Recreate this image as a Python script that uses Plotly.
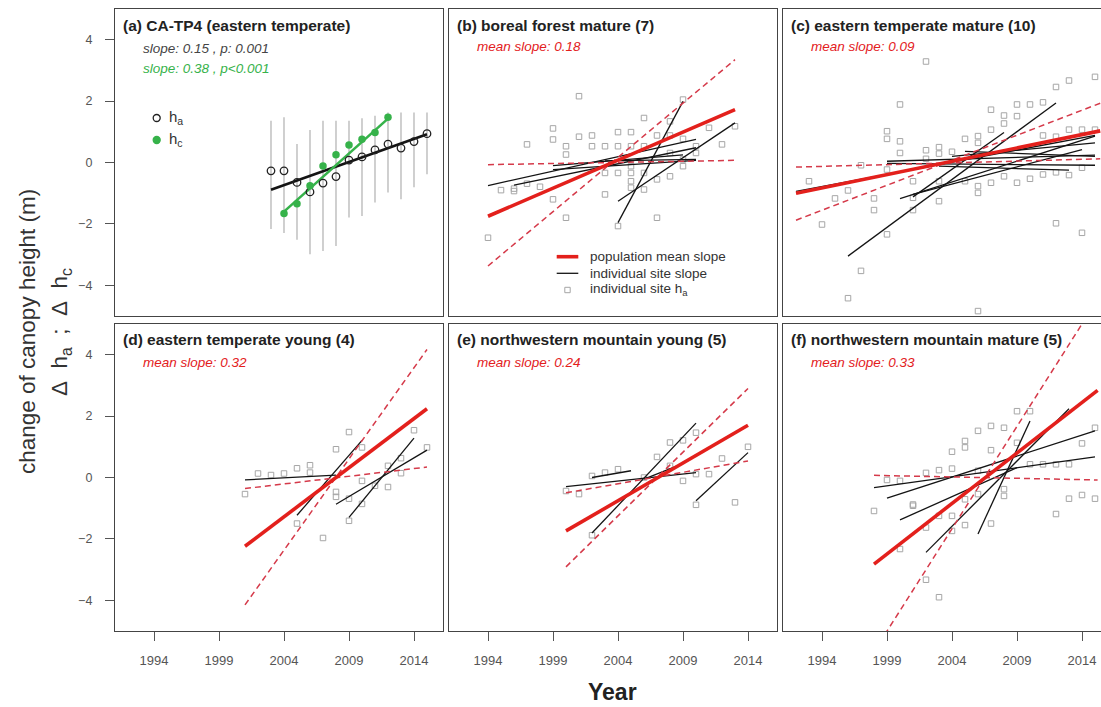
import plotly.graph_objects as go

W, H = 1101, 707
X_TICKS = [1994, 1999, 2004, 2009, 2014]
Y_TICKS = [-4, -2, 0, 2, 4]

# ---------------- panel (a) CA-TP4 ----------------
a_years_ha = [2003, 2004, 2005, 2006, 2007, 2008, 2009, 2010, 2011, 2012, 2013, 2014, 2015]
a_ha = [-0.27, -0.27, -0.65, -0.96, -0.67, -0.46, 0.08, 0.18, 0.41, 0.60, 0.47, 0.68, 0.94]
a_years_hc = [2004, 2005, 2006, 2007, 2008, 2009, 2010, 2011, 2012]
a_hc = [-1.66, -1.34, -0.76, -0.11, 0.25, 0.57, 0.76, 0.98, 1.47]
a_bar_lo = [-2.17, -2.30, -2.52, -2.99, -2.88, -2.72, -1.79, -1.74, -1.30, -0.98, -1.20, -0.81, -0.38]
a_bar_hi = [1.36, 1.47, 0.60, 1.06, 1.36, 1.36, 1.36, 1.44, 1.52, 1.63, 1.63, 1.63, 1.63]
a_fit_ha_x = [2003, 2015]
a_fit_ha_y = [-0.89, 0.92]
a_fit_hc_x = [2004, 2012]
a_fit_hc_y = [-1.60, 1.43]

# ---------------- panel (b) boreal forest mature ----------------
b_pt_years = [1994, 1995, 1996, 1997, 1998, 1999, 2000, 2001, 2002, 2003, 2004,
              2005, 2006, 2007, 2008, 2009, 2010, 2011, 2012, 2013]
b_pt_vals = [[-2.45], [-0.90], [-0.93, -0.85], [0.59, -0.69], [-0.79],
             [1.11, 0.75, -1.20], [0.53, 0.26, -1.80], [2.16, 0.84], [0.88, 0.53],
             [0.53, -0.34, -1.04], [0.99, 0.53, -0.34, -2.07],
             [0.99, 0.53, -0.12, -0.34, -0.61, -0.82], [1.45, 0.53, -0.34, -0.88],
             [0.88, -0.55, -1.80], [1.34, 0.88, 0.31, -0.45], [2.05, 0.77, 0.10, -0.12],
             [0.53, 0.31], [1.13], [0.59], [1.18]]
b_site_x0 = [1994, 1996, 1999, 1999, 2004, 2004, 2003]
b_site_x1 = [2010, 2010, 2010, 2009, 2009, 2013, 2010]
b_site_y0 = [-0.75, -0.74, -0.23, -0.10, -1.96, -1.26, 0.05]
b_site_y1 = [0.75, 0.48, 0.07, 0.25, 1.99, 1.29, 0.10]
b_mean = [1994, 2013, -1.75, 1.72]
b_ci_hi = [1994, 2013, -3.37, 3.35]
b_ci_lo = [1994, 2013, -0.07, 0.07]

# ---------------- panel (c) eastern temperate mature ----------------
c_pt_years = [1993, 1994, 1995, 1996, 1997, 1998, 1999, 2000, 2001, 2002, 2003, 2004,
              2005, 2006, 2007, 2008, 2009, 2010, 2011, 2012, 2013, 2014, 2015]
c_pt_vals = [[-0.61], [-2.02], [-1.17], [-0.91, -4.42], [-0.09, -3.53], [-1.17, -1.55],
             [1.02, 0.77, -0.23, -2.34], [1.89, 0.69, 0.31], [-0.61, -1.15, -1.55],
             [3.29, 0.40, 0.12], [0.50, 0.29, -0.61, -1.26], [0.35], [0.77, -0.61],
             [0.86, 0.64, -0.77, -0.99, -4.84], [1.72, 1.07, -0.66], [1.53, 1.27, -0.45],
             [1.89, 1.51, -0.66], [1.89, -0.53], [1.96, 0.88, -0.39],
             [2.46, 0.84, -0.32, -1.98], [2.67, 1.07, -0.41], [1.07, -0.17, -2.29],
             [2.79, 1.07]]
c_site_x0 = [1992, 1996, 1999, 1999, 2000, 2001, 2003, 2004, 2005, 2001]
c_site_x1 = [2015, 2012, 2015, 2015, 2015, 2008, 2013, 2015, 2015, 2014]
c_site_y0 = [-0.94, -3.05, 0.04, -0.03, -1.18, -1.12, -0.12, 0.20, 0.36, -1.04]
c_site_y1 = [0.88, 1.94, 0.24, -0.09, 0.86, 0.98, -0.25, 0.64, 0.20, 0.42]
c_mean = [1992, 2015.4, -1.00, 1.03]
c_ci_hi = [1992, 2015.4, -1.88, 1.93]
c_ci_lo = [1992, 2015.4, -0.15, 0.12]

# ---------------- panel (d) eastern temperate young ----------------
d_pt_years = [2001, 2002, 2003, 2004, 2005, 2006, 2007, 2008, 2009, 2010, 2011,
              2012, 2013, 2014, 2015]
d_pt_vals = [[-0.54], [0.13], [0.08], [0.13], [0.30, -1.50], [0.40, 0.16], [-1.97],
             [0.92, -0.47, -0.63], [1.48, -0.69, -1.41], [0.98, -0.11, -0.86], [-0.27],
             [0.38, -0.31], [0.63, 0.14], [1.54], [0.98]]
d_site_x0 = [2001, 2005, 2008, 2009]
d_site_x1 = [2008, 2010, 2015, 2014]
d_site_y0 = [-0.08, -1.23, -0.87, -1.30]
d_site_y1 = [0.08, 1.21, 0.89, 1.28]
d_mean = [2001, 2015, -2.24, 2.24]
d_ci_hi = [2001, 2015, -4.15, 4.17]
d_ci_lo = [2001, 2015, -0.36, 0.34]

# ---------------- panel (e) northwestern mountain young ----------------
e_pt_years = [2000, 2001, 2002, 2003, 2004, 2006, 2007, 2008, 2009, 2010, 2011,
              2012, 2013, 2014]
e_pt_vals = [[-0.44], [-0.54], [0.05, -1.88], [0.16], [0.27], [0.0], [0.67],
             [1.14, 0.38], [1.21, -0.11], [1.46, 0.11, -0.89], [0.11], [0.62],
             [-0.81], [1.00]]
e_site_x0 = [2000, 2002, 2002, 2006, 2010]
e_site_x1 = [2010, 2010, 2005, 2009, 2014]
e_site_y0 = [-0.30, -1.81, 0.00, -0.05, -0.76]
e_site_y1 = [0.16, 1.77, 0.22, 0.45, 0.81]
e_mean = [2000, 2014, -1.74, 1.70]
e_ci_hi = [2000, 2014, -2.91, 2.90]
e_ci_lo = [2000, 2014, -0.50, 0.54]

# ---------------- panel (f) northwestern mountain mature ----------------
f_pt_years = [1998, 1999, 2000, 2001, 2002, 2003, 2004, 2005, 2006, 2007, 2008,
              2009, 2010, 2011, 2012, 2013, 2014, 2015]
f_pt_vals = [[-1.09], [-0.08], [-0.11, -2.33], [-0.88, -0.92], [0.15, -1.63, -3.33],
             [0.24, -1.25, -3.90], [0.84, 0.29, -1.25, -1.74], [1.19, 0.98, -0.71, -1.55],
             [1.52, 0.22, -0.54], [1.68, 0.89, -1.50], [1.62, -0.38, -0.60],
             [2.16, 1.13], [2.16, 0.43], [0.43], [0.43, -1.19], [0.43, -0.69],
             [1.11, -0.57], [1.62, -0.69]]
f_site_x0 = [1998, 1999, 2000, 2002, 2006]
f_site_x1 = [2015, 2015, 2009, 2013, 2010]
f_site_y0 = [-0.33, -0.67, -1.38, -2.44, -1.84]
f_site_y1 = [0.67, 1.52, 0.32, 2.24, 1.84]
f_mean = [1998, 2015.2, -2.82, 2.84]
f_ci_hi = [1998, 2015.2, -5.67, 5.80]
f_ci_lo = [1998, 2015.2, 0.07, -0.08]

titles = ["(a) CA-TP4 (eastern temperate)", "(b) boreal forest mature (7)",
          "(c) eastern temperate mature (10)", "(d) eastern temperate young (4)",
          "(e) northwestern mountain young (5)", "(f) northwestern mountain mature (5)"]
mean_slopes = [None, 0.18, 0.09, 0.32, 0.24, 0.33]
legend_a_labels = ["h<sub>a</sub>", "h<sub>c</sub>"]
legend_b_labels = ["population mean slope", "individual site slope", "individual site h<sub>a</sub>"]

RED = "#e3201c"
RED_D = "#d53a4a"
GRAY_PT = "#a6a6a6"
BLACK = "#141414"
GREEN = "#36b24a"
FONT = "Liberation Sans"

panels = [None,
          (b_pt_years, b_pt_vals, b_site_x0, b_site_x1, b_site_y0, b_site_y1, b_mean, b_ci_hi, b_ci_lo),
          (c_pt_years, c_pt_vals, c_site_x0, c_site_x1, c_site_y0, c_site_y1, c_mean, c_ci_hi, c_ci_lo),
          (d_pt_years, d_pt_vals, d_site_x0, d_site_x1, d_site_y0, d_site_y1, d_mean, d_ci_hi, d_ci_lo),
          (e_pt_years, e_pt_vals, e_site_x0, e_site_x1, e_site_y0, e_site_y1, e_mean, e_ci_hi, e_ci_lo),
          (f_pt_years, f_pt_vals, f_site_x0, f_site_x1, f_site_y0, f_site_y1, f_mean, f_ci_hi, f_ci_lo)]


def segs(x0s, x1s, y0s, y1s):
    xs, ys = [], []
    for p, q, r, s in zip(x0s, x1s, y0s, y1s):
        xs += [p, q, None]
        ys += [r, s, None]
    return xs, ys


fig = go.Figure()

# ---- panel a traces
bx, by = [], []
for yr, lo, hi in zip(a_years_ha, a_bar_lo, a_bar_hi):
    bx += [yr, yr, None]
    by += [lo, hi, None]
fig.add_trace(go.Scatter(x=bx, y=by, mode="lines", line=dict(color="#c4c4c4", width=1.6),
                         xaxis="x", yaxis="y", showlegend=False, hoverinfo="skip"))
fig.add_trace(go.Scatter(x=a_fit_ha_x, y=a_fit_ha_y, mode="lines", line=dict(color=BLACK, width=2.6),
                         xaxis="x", yaxis="y", showlegend=False))
fig.add_trace(go.Scatter(x=a_fit_hc_x, y=a_fit_hc_y, mode="lines", line=dict(color=GREEN, width=2.6),
                         xaxis="x", yaxis="y", showlegend=False))
fig.add_trace(go.Scatter(x=a_years_ha, y=a_ha, mode="markers", name="h_a",
                         marker=dict(symbol="circle-open", size=7.5, color="#222", line=dict(width=1.3)),
                         xaxis="x", yaxis="y", showlegend=False))
fig.add_trace(go.Scatter(x=a_years_hc, y=a_hc, mode="markers", name="h_c",
                         marker=dict(symbol="circle", size=7.5, color=GREEN),
                         xaxis="x", yaxis="y", showlegend=False))

# ---- panels b-f
for i in range(1, 6):
    pyears, pvals, sx0, sx1, sy0, sy1, mean, cihi, cilo = panels[i]
    xa = "x%d" % (i + 1)
    ya = "y%d" % (i + 1)
    px, py = [], []
    for yr, vals in zip(pyears, pvals):
        for v in vals:
            px.append(yr)
            py.append(v)
    fig.add_trace(go.Scatter(x=px, y=py, mode="markers", name="individual site h_a",
                             marker=dict(symbol="square-open", size=5.5, color=GRAY_PT, line=dict(width=1)),
                             xaxis=xa, yaxis=ya, showlegend=False))
    lx, ly = segs(sx0, sx1, sy0, sy1)
    fig.add_trace(go.Scatter(x=lx, y=ly, mode="lines", name="individual site slope",
                             line=dict(color=BLACK, width=1.3),
                             xaxis=xa, yaxis=ya, showlegend=False))
    for ci in (cihi, cilo):
        fig.add_trace(go.Scatter(x=ci[:2], y=ci[2:], mode="lines",
                                 line=dict(color=RED_D, width=1.5, dash="6px,4px"),
                                 xaxis=xa, yaxis=ya, showlegend=False))
    fig.add_trace(go.Scatter(x=mean[:2], y=mean[2:], mode="lines", name="population mean slope",
                             line=dict(color=RED, width=3.6),
                             xaxis=xa, yaxis=ya, showlegend=False))

# ---- axes layout
cols = [(115, 443), (449, 777), (783, 1101)]
rows = [(9, 316), (324, 631)]
PX_PER_YEAR = 13.0
layout = {}
annotations = []
shapes = []


def px2p(x, y):
    return x / W, 1 - y / H


for i in range(6):
    r, c = divmod(i, 3)
    x0, x1 = cols[c]
    y0, y1 = rows[r]
    span = (x1 - x0) / PX_PER_YEAR
    xname = "xaxis" if i == 0 else "xaxis%d" % (i + 1)
    yname = "yaxis" if i == 0 else "yaxis%d" % (i + 1)
    layout[xname] = dict(domain=[x0 / W, x1 / W], range=[1991, 1991 + span],
                         anchor="y" if i == 0 else "y%d" % (i + 1),
                         showline=True, mirror=True, linecolor="#444", linewidth=1.3,
                         showgrid=False, zeroline=False,
                         tickvals=X_TICKS, ticks="outside" if r == 1 else "",
                         showticklabels=(r == 1), ticklen=9, tickcolor="#555", tickwidth=1.2,
                         ticklabelstandoff=8,
                         tickfont=dict(size=13, color="#555", family=FONT))
    layout[yname] = dict(domain=[1 - y1 / H, 1 - y0 / H], range=[-5, 5],
                         anchor="x" if i == 0 else "x%d" % (i + 1),
                         showline=True, mirror=(c < 2), linecolor="#444", linewidth=1.3,
                         showgrid=False, zeroline=False,
                         tickvals=Y_TICKS, ticks="outside" if c == 0 else "",
                         showticklabels=(c == 0), ticklen=9, tickcolor="#555", tickwidth=1.2,
                         ticklabelstandoff=10,
                         tickfont=dict(size=12.5, color="#555", family=FONT))
    tx, ty = px2p(x0 + 6, y0 + 16)
    annotations.append(dict(text="<b>%s</b>" % titles[i], xref="paper", yref="paper",
                            x=tx, y=ty, xanchor="left", yanchor="middle",
                            showarrow=False, font=dict(size=15.5, color="#222", family=FONT)))
    if mean_slopes[i] is not None:
        mx, my = px2p(x0 + 26, y0 + 38)
        annotations.append(dict(text="<i>mean slope: %.2f</i>" % mean_slopes[i], xref="paper", yref="paper",
                                x=mx, y=my, xanchor="left", yanchor="middle",
                                showarrow=False, font=dict(size=13.5, color=RED, family=FONT)))

for txt, col, yy in (("<i>slope: 0.15 , p: 0.001</i>", "#444", 48),
                     ("<i>slope: 0.38 , p<0.001</i>", GREEN, 68)):
    sx, sy = px2p(141, yy)
    annotations.append(dict(text=txt, xref="paper", yref="paper", x=sx, y=sy,
                            xanchor="left", yanchor="middle", showarrow=False,
                            font=dict(size=13.5, color=col, family=FONT)))

# ---- legend of panel (a), drawn by hand
la_y = [118, 140]
for k, (lab, yy) in enumerate(zip(legend_a_labels, la_y)):
    cx0, cy0 = px2p(153.2, yy - 3.5)
    cx1, cy1 = px2p(160.2, yy + 3.5)
    shapes.append(dict(type="circle", xref="paper", yref="paper", x0=cx0, y0=cy0, x1=cx1, y1=cy1,
                       line=dict(color="#222" if k == 0 else GREEN, width=1.3),
                       fillcolor="rgba(0,0,0,0)" if k == 0 else GREEN))
    tx, ty = px2p(167, yy)
    annotations.append(dict(text=lab, xref="paper", yref="paper", x=tx, y=ty, xanchor="left",
                            yanchor="middle", showarrow=False, font=dict(size=15, color="#333", family=FONT)))

# ---- legend of panel (b), drawn by hand
lb_y = [256.7, 273.3, 290]
for k, (lab, yy) in enumerate(zip(legend_b_labels, lb_y)):
    if k < 2:
        lx0, ly0 = px2p(556.7, yy)
        lx1, ly1 = px2p(578.3, yy)
        shapes.append(dict(type="line", xref="paper", yref="paper", x0=lx0, y0=ly0, x1=lx1, y1=ly1,
                           line=dict(color=RED if k == 0 else BLACK, width=3.6 if k == 0 else 1.3)))
    else:
        qx0, qy0 = px2p(564.8, yy - 2.7)
        qx1, qy1 = px2p(570.2, yy + 2.7)
        shapes.append(dict(type="rect", xref="paper", yref="paper", x0=qx0, y0=qy0, x1=qx1, y1=qy1,
                           line=dict(color=GRAY_PT, width=1), fillcolor="rgba(0,0,0,0)"))
    tx, ty = px2p(588, yy)
    annotations.append(dict(text=lab, xref="paper", yref="paper", x=tx, y=ty, xanchor="left",
                            yanchor="middle", showarrow=False, font=dict(size=13.5, color="#333", family=FONT)))

# ---- global axis titles
yx, yy = px2p(612, 692)
annotations.append(dict(text="<b>Year</b>", xref="paper", yref="paper", x=yx, y=yy,
                        xanchor="center", yanchor="middle", showarrow=False,
                        font=dict(size=23, color="#222", family=FONT)))
t1x, t1y = px2p(27, 332)
annotations.append(dict(text="change of canopy height (m)", xref="paper", yref="paper",
                        x=t1x, y=t1y, xanchor="center", yanchor="middle", showarrow=False,
                        textangle=-90, font=dict(size=22.5, color="#333", family=FONT)))
t2x, t2y = px2p(61, 332)
annotations.append(dict(text="Δ\u00a0\u00a0h<sub>a</sub>\u00a0\u00a0;\u00a0\u00a0Δ\u00a0\u00a0h<sub>c</sub>",
                        xref="paper", yref="paper", x=t2x, y=t2y, xanchor="center", yanchor="middle",
                        showarrow=False, textangle=-90, font=dict(size=22.5, color="#333", family=FONT)))

fig.update_layout(
    width=W, height=H, margin=dict(l=0, r=0, t=0, b=0),
    paper_bgcolor="white", plot_bgcolor="white",
    font=dict(family=FONT, color="#333"),
    annotations=annotations, shapes=shapes,
    showlegend=False,
    **layout,
)

fig.write_html("out.html", config={"displayModeBar": False},
               post_script="document.body.style.margin='0px';document.body.style.overflow='hidden';")
